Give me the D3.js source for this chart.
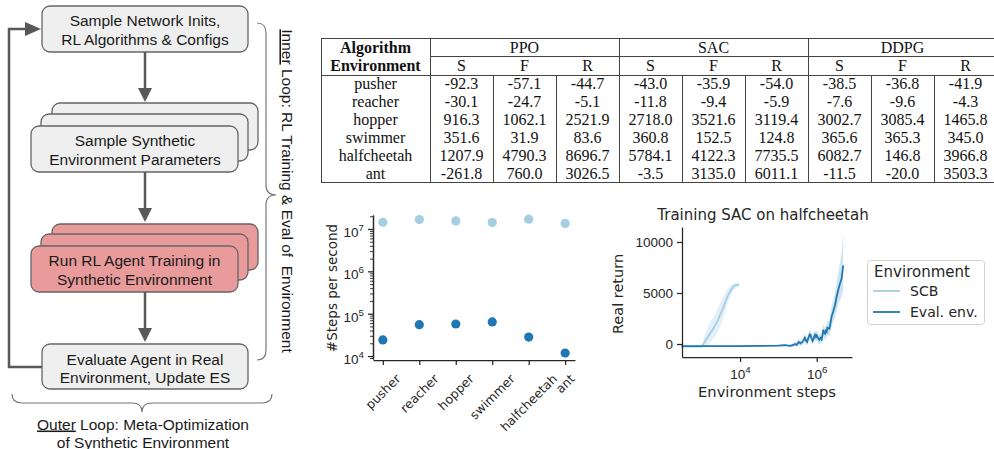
<!DOCTYPE html>
<html>
<head>
<meta charset="utf-8">
<script src="https://cdn.jsdelivr.net/npm/d3@7"></script>
<style>
  body { margin: 0; background: #fff; }
  svg { display: block; }
  .sans { font-family: "Liberation Sans", Arial, sans-serif; }
  .dv { font-family: "DejaVu Sans", sans-serif; }
  .serif { font-family: "Liberation Serif", "Times New Roman", serif; }
</style>
</head>
<body>
<svg id="fig" width="994" height="449"></svg>
<script>
// ---------- flowchart labels ----------
const topBox = ['Sample Network Inits,', 'RL Algorithms & Configs'];
const sampleBox = ['Sample Synthetic', 'Environment Parameters'];
const trainBox = ['Run RL Agent Training in', 'Synthetic Environment'];
const evalBox = ['Evaluate Agent in Real', 'Environment, Update ES'];
const outerText = ['Loop: Meta-Optimization', 'of Synthetic Environment'];

// ---------- table ----------
const algorithms = ['PPO', 'SAC', 'DDPG'];
const variants = ['S', 'F', 'R'];
const envs = ['pusher', 'reacher', 'hopper', 'swimmer', 'halfcheetah', 'ant'];
const ppoS = [-92.3, -30.1, 916.3, 351.6, 1207.9, -261.8];
const ppoF = [-57.1, -24.7, 1062.1, 31.9, 4790.3, 760.0];
const ppoR = [-44.7, -5.1, 2521.9, 83.6, 8696.7, 3026.5];
const sacS = [-43.0, -11.8, 2718.0, 360.8, 5784.1, -3.5];
const sacF = [-35.9, -9.4, 3521.6, 152.5, 4122.3, 3135.0];
const sacR = [-54.0, -5.9, 3119.4, 124.8, 7735.5, 6011.1];
const ddpgS = [-38.5, -7.6, 3002.7, 365.6, 6082.7, -11.5];
const ddpgF = [-36.8, -9.6, 3085.4, 365.3, 146.8, -20.0];
const ddpgR = [-41.9, -4.3, 1465.8, 345.0, 3966.8, 3503.3];

// ---------- steps per second ----------
const spsSynthetic = [1.44e7, 1.67e7, 1.55e7, 1.42e7, 1.70e7, 1.35e7];
const spsReal = [2.4e4, 5.5e4, 5.7e4, 6.4e4, 2.8e4, 1.18e4];

// ---------- training curves ----------
const scbSteps = [300, 600, 1000, 1200, 1450, 1700, 2000, 2350, 2700, 3100, 3600, 4200, 4900, 5700, 6600, 7800, 9400];
const scbMean = [-250, -250, -250, 200, 700, 1100, 1500, 1950, 2400, 2950, 3500, 4200, 4800, 5250, 5600, 5800, 5800];
const scbLo = [-280, -280, -280, -250, -100, 200, 500, 900, 1300, 1800, 2500, 3300, 4100, 4700, 5200, 5500, 5600];
const scbHi = [-220, -220, -220, 900, 1700, 2200, 2600, 3100, 3600, 4100, 4600, 5100, 5500, 5800, 5900, 6000, 5950];

const evalSteps = [300, 1000, 3000, 10000, 30000, 100000, 150000,
    200000, 240000, 270000, 300000, 340000, 380000, 410000, 450000, 490000, 530000,
    560000, 600000, 620000, 660000, 690000, 720000, 750000, 780000, 810000, 860000,
    900000, 950000, 1000000, 1080000, 1170000, 1250000, 1350000, 1420000, 1480000, 1560000,
    1650000, 1740000, 1820000, 1900000, 2000000, 2140000, 2300000, 2450000, 2700000, 3000000,
    3300000, 3630000, 4070000, 4470000, 4900000];
const evalMean = [-200, -200, -210, -200, -190, -150, -120,
    -180, -120, 0, -80, 200, 60, 150, 350, 600, 300,
    200, 550, 700, 950, 900, 650, 500, 300, 400, 700,
    900, 700, 850, 550, 400, 600, 450, 900, 1400, 1100,
    1000, 1300, 1200, 1600, 1550, 1500, 2100, 2700, 3200, 3800,
    4600, 5300, 5950, 6450, 7700];
const evalLo = [-260, -260, -260, -250, -240, -220, -200,
    -280, -250, -200, -250, -100, -200, -150, 0, 200, -50,
    -150, 150, 250, 450, 450, 200, 50, -100, 0, 250,
    400, 250, 350, 50, -100, 100, -50, 400, 800, 500,
    400, 700, 600, 900, 800, 700, 1200, 1700, 2200, 2600,
    3200, 3900, 4300, 4700, 5300];
const evalHi = [-150, -150, -160, -150, -140, -80, -40,
    -80, 20, 250, 150, 550, 350, 450, 700, 1000, 650,
    550, 950, 1150, 1450, 1350, 1100, 950, 700, 800, 1150,
    1400, 1150, 1350, 1050, 900, 1100, 950, 1400, 2000, 1700,
    1600, 1900, 1800, 2300, 2300, 2300, 3000, 3700, 4300, 5000,
    6200, 7000, 8000, 9000, 10800];

const svg = d3.select('#fig');
svg.append('rect').attr('width', 994).attr('height', 449).attr('fill', '#fff');

const light = '#a6cee3', dark = '#1f78b4', ink = '#262626';

// ================= flowchart =================
function drawFlow() {
    const g = svg.append('g').attr('class', 'sans');
    const grey = '#595959';

    function box(x, y, w, h, fill) {
        g.append('rect').attr('x', x).attr('y', y).attr('width', w).attr('height', h)
            .attr('rx', 8).attr('fill', fill).attr('stroke', '#666').attr('stroke-width', 1.3);
    }
    function lines(cx, cy, arr) {
        arr.forEach((t, i) => {
            g.append('text').attr('x', cx).attr('y', cy + i * 18.3 + 5.5)
                .attr('text-anchor', 'middle').attr('font-size', 15.5).attr('fill', '#1a1a1a').text(t);
        });
    }
    function arrowDown(x, y0, y1) {
        g.append('line').attr('x1', x).attr('x2', x).attr('y1', y0).attr('y2', y1 - 12)
            .attr('stroke', grey).attr('stroke-width', 2.5);
        g.append('path').attr('d', `M${x - 7},${y1 - 14}L${x + 7},${y1 - 14}L${x},${y1}Z`).attr('fill', grey);
    }

    box(42, 6, 206, 46, '#efefef');
    lines(145, 20.7, topBox);

    box(52, 103, 206, 47, '#efefef');
    box(41, 114, 207, 47, '#efefef');
    box(31, 126, 207, 46, '#efefef');
    lines(135, 140.7, sampleBox);

    box(52, 224, 206, 46, '#e99a9a');
    box(41, 234, 207, 46, '#e99a9a');
    box(31, 246, 207, 46, '#e99a9a');
    lines(134.5, 260.7, trainBox);

    box(42, 344, 206, 45, '#efefef');
    lines(145, 359, evalBox);

    arrowDown(145, 52, 102);
    arrowDown(145, 172, 222);
    arrowDown(145, 292, 342);

    g.append('path').attr('d', 'M42,367L9,367L9,29L27,29').attr('fill', 'none')
        .attr('stroke', grey).attr('stroke-width', 2.5);
    g.append('path').attr('d', 'M25,22L41,29L25,36Z').attr('fill', grey);

    // braces
    g.append('path')
        .attr('d', 'M257,23Q266,23 266,33L266,185Q266,195 276,195Q266,195 266,205L266,350Q266,360 257,360')
        .attr('fill', 'none').attr('stroke', '#777').attr('stroke-width', 1.2);
    g.append('path')
        .attr('d', 'M12,394Q12,403 22,403L132,403Q142,403 142,412Q142,403 152,403L262,403Q272,403 272,394')
        .attr('fill', 'none').attr('stroke', '#777').attr('stroke-width', 1.2);

    const vt = g.append('text').attr('transform', 'translate(282,191) rotate(90)')
        .attr('text-anchor', 'middle').attr('font-size', 15.5).attr('fill', '#1a1a1a')
        .style('white-space', 'pre');
    vt.append('tspan').attr('text-decoration', 'underline').text('Inner');
    vt.append('tspan').text(' Loop: RL Training & Eval of  Environment');

    const o1 = g.append('text').attr('x', 143).attr('y', 429.5).attr('text-anchor', 'middle')
        .attr('font-size', 15.5).attr('fill', '#1a1a1a');
    o1.append('tspan').attr('text-decoration', 'underline').text('Outer');
    o1.append('tspan').text(' ' + outerText[0]);
    g.append('text').attr('x', 143).attr('y', 447.5).attr('text-anchor', 'middle')
        .attr('font-size', 15.5).attr('fill', '#1a1a1a').text(outerText[1]);
}

// ================= table =================
function drawTable() {
    const g = svg.append('g').attr('class', 'serif');
    const cols = algorithms.flatMap(a => variants.map(v => a + '_' + v));
    const values = {
        PPO_S: ppoS, PPO_F: ppoF, PPO_R: ppoR,
        SAC_S: sacS, SAC_F: sacF, SAC_R: sacR,
        DDPG_S: ddpgS, DDPG_F: ddpgF, DDPG_R: ddpgR
    };
    const left = 321, top = 38, bottom = 182, envRight = 430;
    const cx = d3.scaleBand().domain(cols).range([envRight, 997]);
    const ry = d3.scaleBand().domain(envs).range([74.5, 182.5]);
    const ls = '#444';

    const hline = (x1, x2, y) => g.append('line').attr('x1', x1).attr('x2', x2).attr('y1', y).attr('y2', y)
        .attr('stroke', ls).attr('stroke-width', 1);
    const vline = (x, y1, y2) => g.append('line').attr('x1', x).attr('x2', x).attr('y1', y1).attr('y2', y2)
        .attr('stroke', ls).attr('stroke-width', 1);

    hline(left, 994, top + 0.5);
    hline(envRight, 994, 56.5);
    hline(left, 994, 75.5);
    hline(left, 994, bottom + 0.5);
    vline(left + 0.5, top, bottom);
    vline(envRight + 0.5, top, bottom);
    cols.forEach((c, i) => {
        if (i === 0) return;
        const x = Math.round(cx(c)) + 0.5;
        if (i % 3 === 0) vline(x, top, bottom);
        else vline(x, 75.5, bottom);
    });

    const txt = (x, y, t, bold) => g.append('text').attr('x', x).attr('y', y)
        .attr('text-anchor', 'middle').attr('font-size', 16).attr('fill', '#111')
        .attr('font-weight', bold ? 'bold' : 'normal').text(t);

    const envMid = (left + envRight) / 2;
    txt(envMid, 52.5, 'Algorithm', true);
    txt(envMid, 70.5, 'Environment', true);
    algorithms.forEach(a => {
        const x0 = cx(a + '_S'), x1 = cx(a + '_R') + cx.bandwidth();
        txt((x0 + x1) / 2, 52.5, a, false);
    });
    cols.forEach(c => txt(cx(c) + cx.bandwidth() / 2, 70.5, c.split('_')[1], false));

    envs.forEach((e, i) => {
        const y = ry(e) + ry.bandwidth() / 2 + 5.3;
        txt(envMid, y, e, false);
        cols.forEach(c => txt(cx(c) + cx.bandwidth() / 2, y, values[c][i].toFixed(1), false));
    });
}

function supLabel(sel, exp, fs) {
    sel.text(null);
    sel.append('tspan').text('10');
    sel.append('tspan').attr('dy', -0.45 * fs).attr('font-size', fs * 0.72).text(exp);
}

function styleAxis(g) {
    g.selectAll('path, line').attr('stroke', ink).attr('stroke-width', 1.25);
    g.selectAll('text').attr('fill', ink);
}

// ================= steps per second =================
function drawSps() {
    const g = svg.append('g').attr('class', 'dv');
    const x = d3.scalePoint().domain(envs).range([373, 575]).padding(0.27);
    const y = d3.scaleLog().domain([Math.pow(10, 3.93), Math.pow(10, 7.33)]).range([359, 215]);

    const minor = [];
    for (let k = 3; k <= 7; k++) for (let m = 2; m <= 9; m++) {
        const v = m * Math.pow(10, k);
        if (v >= y.domain()[0] && v <= y.domain()[1]) minor.push(v);
    }
    const minorAx = g.append('g').attr('transform', 'translate(373,0)')
        .call(d3.axisLeft(y).tickValues(minor).tickSize(3).tickSizeOuter(0).tickFormat(''));
    const majorAx = g.append('g').attr('transform', 'translate(373,0)')
        .call(d3.axisLeft(y).tickValues([1e4, 1e5, 1e6, 1e7]).tickSize(5).tickSizeOuter(0)
            .tickPadding(4).tickFormat(d => Math.round(Math.log10(d))));
    majorAx.selectAll('text').attr('font-size', 13.5).attr('dy', '0.55em')
        .each(function (d) { supLabel(d3.select(this), Math.round(Math.log10(d)), 13.5); });
    [minorAx, majorAx].forEach(styleAxis);
    minorAx.selectAll('line').attr('stroke-width', 0.9);

    const xAx = g.append('g').attr('transform', 'translate(0,360)')
        .call(d3.axisBottom(x).tickSize(5).tickSizeOuter(0).tickFormat(''));
    styleAxis(xAx);

    envs.forEach(e => {
        const t = g.append('text').attr('font-size', 12.5).attr('fill', ink)
            .attr('text-anchor', 'middle').attr('dominant-baseline', 'central').text(e);
        const w = t.node().getComputedTextLength();
        const h = (w + 12.5) * Math.SQRT1_2;
        const cx = x(e), cy = 372 + h / 2;
        t.attr('x', cx).attr('y', cy).attr('transform', `rotate(-45,${cx},${cy})`);
    });

    g.append('text').attr('transform', 'translate(337,288) rotate(-90)')
        .attr('text-anchor', 'middle').attr('font-size', 13.5).attr('fill', ink)
        .text('#Steps per second');

    const pts = g.append('g');
    pts.selectAll('circle.syn').data(envs).join('circle').attr('class', 'syn')
        .attr('cx', d => x(d)).attr('cy', (d, i) => y(spsSynthetic[i])).attr('r', 4.6).attr('fill', light);
    pts.selectAll('circle.real').data(envs).join('circle').attr('class', 'real')
        .attr('cx', d => x(d)).attr('cy', (d, i) => y(spsReal[i])).attr('r', 4.6).attr('fill', dark);
}

// ================= training curve =================
function drawCurve() {
    const g = svg.append('g').attr('class', 'dv');
    const x = d3.scaleLog().domain([Math.pow(10, 2.486), Math.pow(10, 6.92)]).range([682, 852]);
    const y = d3.scaleLinear().domain([-1275, 11470]).range([357, 227]);

    const scb = scbSteps.map((s, i) => ({ s, m: scbMean[i], lo: scbLo[i], hi: scbHi[i] }));
    const ev = evalSteps.map((s, i) => ({ s, m: evalMean[i], lo: evalLo[i], hi: evalHi[i] }));
    const area = d3.area().x(d => x(d.s)).y0(d => y(d.lo)).y1(d => y(d.hi));
    const line = d3.line().x(d => x(d.s)).y(d => y(d.m));

    g.append('path').attr('d', area(scb)).attr('fill', light).attr('opacity', 0.3);
    g.append('path').attr('d', area(ev)).attr('fill', dark).attr('opacity', 0.2);
    g.append('path').attr('d', line(scb)).attr('fill', 'none').attr('stroke', light).attr('stroke-width', 1.8);
    g.append('path').attr('d', line(ev)).attr('fill', 'none').attr('stroke', dark).attr('stroke-width', 1.8);

    const yAx = g.append('g').attr('transform', 'translate(682,0)')
        .call(d3.axisLeft(y).tickValues([0, 5000, 10000]).tickFormat(d3.format('d'))
            .tickSize(5).tickSizeOuter(0).tickPadding(4));
    yAx.selectAll('text').attr('font-size', 13.5);
    styleAxis(yAx);

    const xAx = g.append('g').attr('transform', 'translate(0,357)')
        .call(d3.axisBottom(x).tickValues([1e4, 1e6]).tickSize(5).tickSizeOuter(0).tickPadding(3));
    xAx.selectAll('text').attr('font-size', 13.5).attr('dy', '1.05em')
        .each(function (d) { supLabel(d3.select(this), Math.round(Math.log10(d)), 13.5); });
    styleAxis(xAx);

    g.append('text').attr('x', 763).attr('y', 220).attr('text-anchor', 'middle')
        .attr('font-size', 15).attr('fill', ink).text('Training SAC on halfcheetah');
    g.append('text').attr('transform', 'translate(623,294) rotate(-90)').attr('text-anchor', 'middle')
        .attr('font-size', 14.5).attr('fill', ink).text('Real return');
    g.append('text').attr('x', 767).attr('y', 397).attr('text-anchor', 'middle')
        .attr('font-size', 14.7).attr('fill', ink).text('Environment steps');

    // legend
    const lg = g.append('g');
    lg.append('rect').attr('x', 867.5).attr('y', 260.5).attr('width', 117).attr('height', 64)
        .attr('rx', 3).attr('fill', '#fff').attr('stroke', '#d0d0d0');
    lg.append('text').attr('x', 922).attr('y', 277).attr('text-anchor', 'middle')
        .attr('font-size', 15).attr('fill', ink).text('Environment');
    [['SCB', light, 291], ['Eval. env.', dark, 312]].forEach(([t, c, yy]) => {
        lg.append('line').attr('x1', 873).attr('x2', 900).attr('y1', yy).attr('y2', yy)
            .attr('stroke', c).attr('stroke-width', 1.8);
        lg.append('text').attr('x', 910).attr('y', yy + 5).attr('font-size', 14)
            .attr('fill', ink).text(t);
    });
}

drawFlow();
drawTable();
drawSps();
drawCurve();
</script>
</body>
</html>
